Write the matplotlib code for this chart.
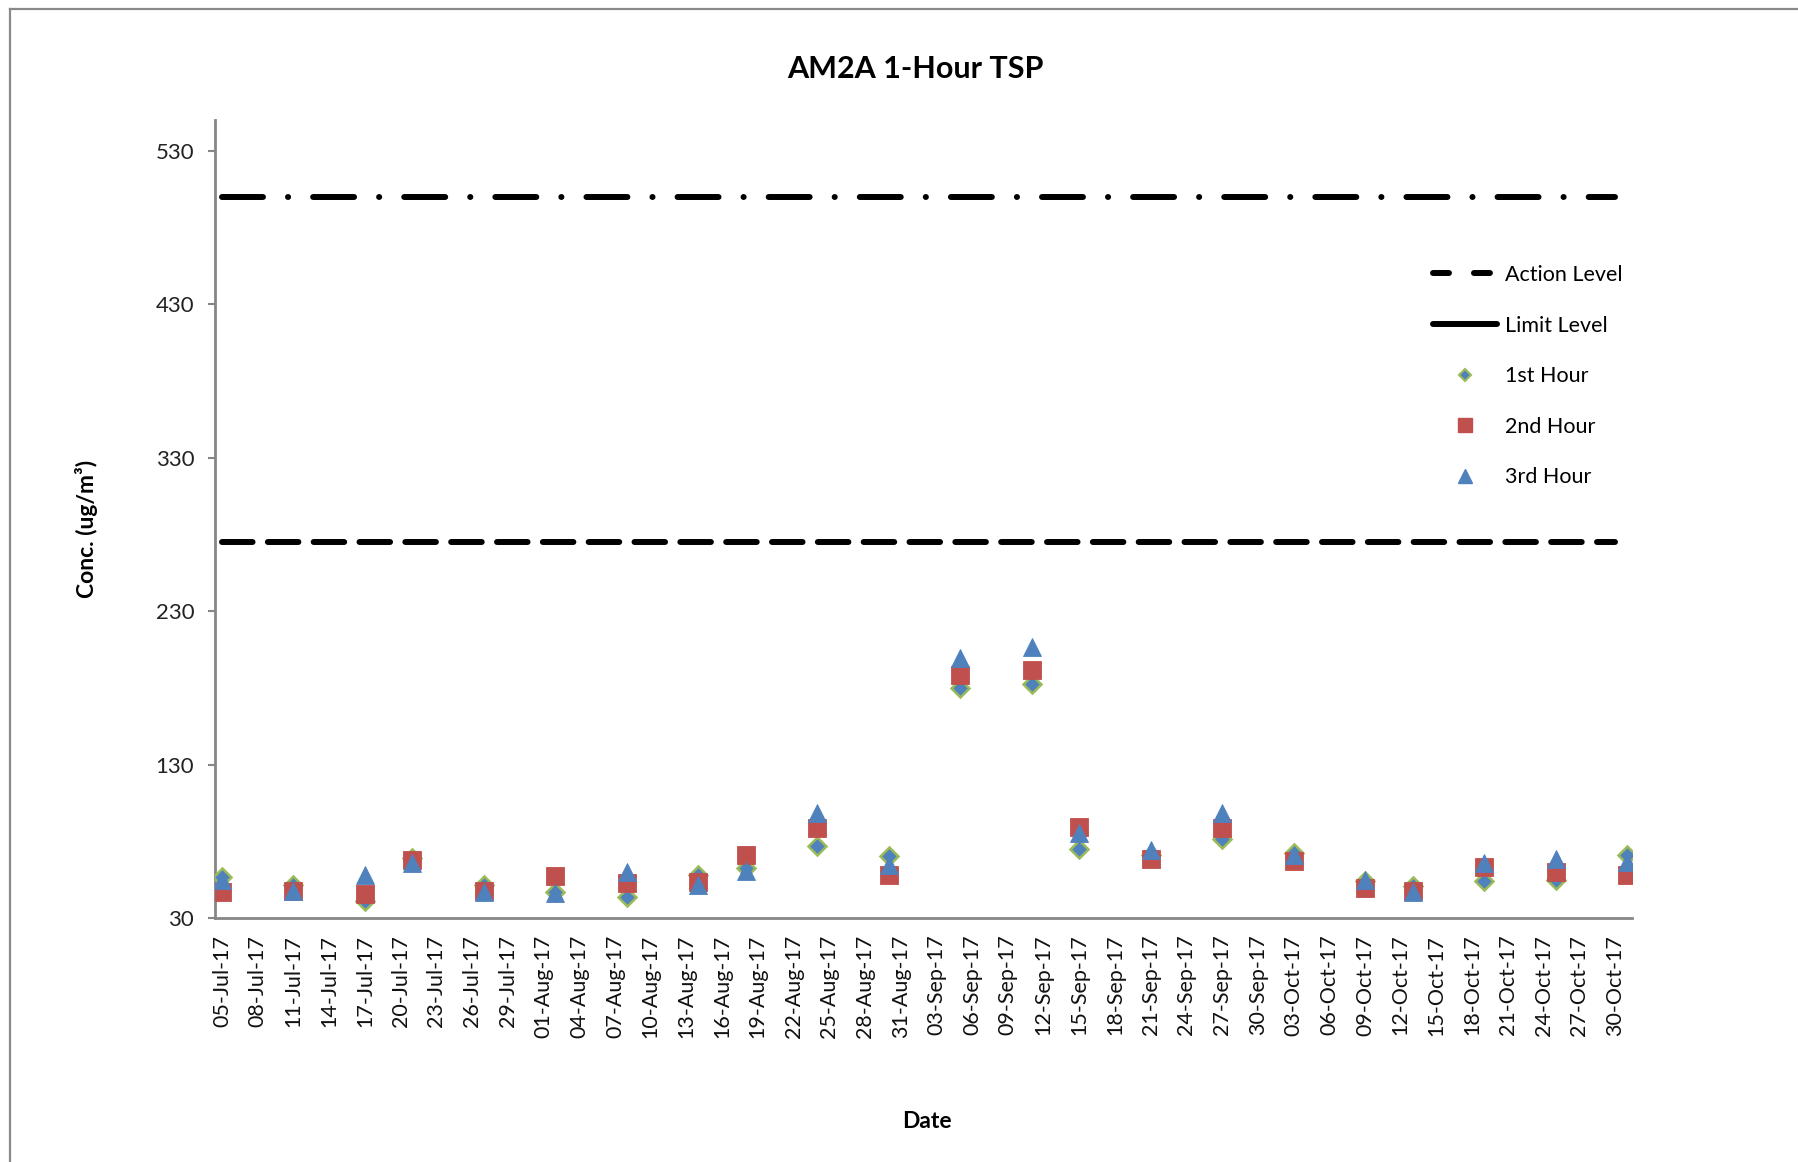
import matplotlib
matplotlib.use("Agg")
import matplotlib.pyplot as plt
from matplotlib.lines import Line2D
import pandas as pd

plt.rcParams['font.family'] = ['Lato', 'DejaVu Sans']
plt.rcParams['lines.scale_dashes'] = False

# ---------------- data ----------------
dates = pd.to_datetime([
    "2017-07-05", "2017-07-11", "2017-07-17", "2017-07-21", "2017-07-27",
    "2017-08-02", "2017-08-08", "2017-08-14", "2017-08-18", "2017-08-24",
    "2017-08-30", "2017-09-05", "2017-09-11", "2017-09-15", "2017-09-21",
    "2017-09-27", "2017-10-03", "2017-10-09", "2017-10-13", "2017-10-19",
    "2017-10-25", "2017-10-31"])
hour1 = [56.5, 51.5, 41.1, 68.9, 51.5, 47.1, 43.7, 58.0, 62.4, 77.2, 70.6,
         180.0, 182.2, 74.7, 71.0, 81.3, 72.3, 54.0, 51.0, 54.1, 54.5, 71.2]
hour2 = [47.1, 47.8, 45.6, 67.8, 47.8, 57.2, 52.6, 53.3, 71.2, 88.8, 58.0,
         188.1, 191.6, 89.1, 68.2, 88.8, 67.3, 49.3, 47.8, 63.0, 60.2, 58.0]
hour3 = [54.5, 47.4, 57.8, 66.0, 47.1, 46.1, 59.8, 51.5, 60.6, 98.6, 64.8,
         199.2, 206.8, 85.2, 74.3, 98.2, 71.0, 54.8, 47.2, 66.0, 68.2, 66.7]

action_level = 275
limit_level = 500
level_dates = pd.to_datetime(["2017-07-05", "2017-10-30"])

tick_dates = pd.date_range("2017-07-05", "2017-10-30", freq="3D")
tick_labels = [d.strftime("%d-%b-%y") for d in tick_dates]
y_ticks = [30, 130, 230, 330, 430, 530]

title = "AM2A 1-Hour TSP"
xlabel = "Date"
ylabel = "Conc. (ug/m³)"
series_names = ["Action Level", "Limit Level", "1st Hour", "2nd Hour", "3rd Hour"]

# ---------------- figure ----------------
W, H = 1798, 1162
fig = plt.figure(figsize=(W / 100, H / 100), dpi=100)
ax = fig.add_axes([215 / W, 1 - 918 / H, (1632 - 215) / W, (918 - 120) / H])

gray = "#868686"
blue = "#4F81BD"
red = "#C0504D"
green = "#9BBB59"

# levels
ax.plot(level_dates, [action_level] * 2, color="black", lw=4.3,
        dashes=(22, 11), dash_capstyle="round", solid_capstyle="round")
ax.plot(level_dates, [limit_level] * 2, color="black", lw=4.3,
        dashes=(29.5, 18, 0.1, 18), dash_capstyle="round", solid_capstyle="round")

# series
ax.plot(dates, hour1, linestyle="none", marker="D", ms=8.8, mfc=blue,
        mec=green, mew=1.8, zorder=3)
ax.plot(dates, hour2, linestyle="none", marker="s", ms=13.5, mfc=red,
        mec=red, mew=0.6, zorder=4)
ax.plot(dates, hour3, linestyle="none", marker="^", ms=13.5, mfc=blue,
        mec=blue, mew=0.6, zorder=5)

ax.set_xlim(pd.Timestamp("2017-07-04 10:00"), pd.Timestamp("2017-10-31 10:00"))
ax.set_ylim(30, 550)
ax.set_yticks(y_ticks)
ax.set_yticklabels([str(v) for v in y_ticks])
ax.set_xticks(tick_dates)
ax.set_xticklabels(tick_labels, rotation=90)

for s in ["top", "right"]:
    ax.spines[s].set_visible(False)
for s in ["left", "bottom"]:
    ax.spines[s].set_color(gray)
    ax.spines[s].set_linewidth(2)
ax.tick_params(axis="y", length=5, width=1.5, color=gray, labelsize=16,
               pad=10, labelcolor="#222222")
ax.tick_params(axis="x", length=0, labelsize=15.5, pad=12, labelcolor="#111111")

fig.text(915 / W, 1 - 69 / H, title, ha="center", va="center",
         fontsize=22, fontweight="bold")
fig.text(927 / W, 1 - 1121 / H, xlabel, ha="center", va="center",
         fontsize=16.5, fontweight="bold")
fig.text(87 / W, 1 - 529 / H, ylabel, ha="center", va="center",
         fontsize=16.5, fontweight="bold", rotation=90)

handles = [
    Line2D([], [], color="black", lw=4.3, dashes=(11.5, 18), dash_capstyle="round"),
    Line2D([], [], color="black", lw=4.3, solid_capstyle="round"),
    Line2D([], [], linestyle="none", marker="D", ms=6, mfc=blue, mec=green, mew=1.5),
    Line2D([], [], linestyle="none", marker="s", ms=10, mfc=red, mec=red),
    Line2D([], [], linestyle="none", marker="^", ms=10, mfc=blue, mec=blue),
]
fig.legend(handles, series_names, loc="upper left",
           bbox_to_anchor=(1433 / W, 1 - 265 / H), frameon=False,
           fontsize=15.5, handlelength=2.95, handletextpad=0.4,
           labelspacing=1.42, borderpad=0, borderaxespad=0)

# outer chart frame
fig.add_artist(Line2D([10 / W, 1], [1 - 9 / H, 1 - 9 / H], transform=fig.transFigure,
                      color="#898989", lw=1.6))
fig.add_artist(Line2D([10 / W, 10 / W], [1 - 9 / H, 0], transform=fig.transFigure,
                      color="#898989", lw=1.6))

fig.savefig("out.png", dpi=100, facecolor="white")
